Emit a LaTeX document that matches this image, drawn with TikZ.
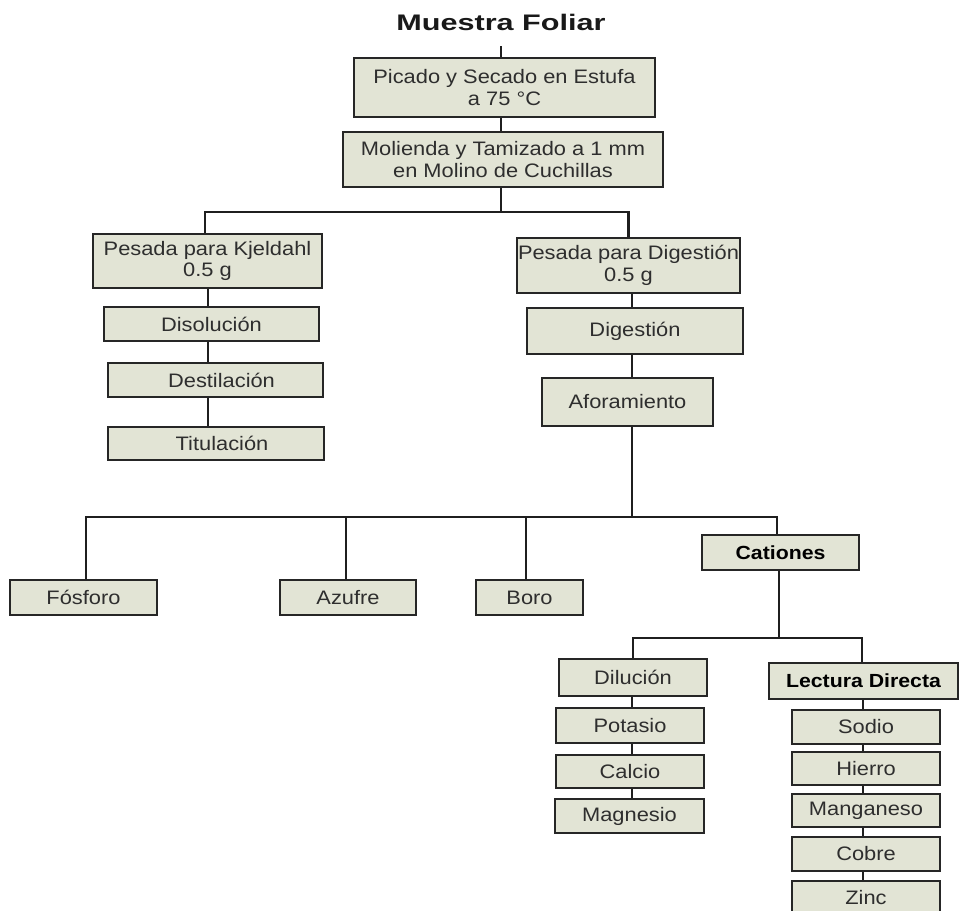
\documentclass[tikz,border=0pt]{standalone}
\usepackage{fontspec}
\setmainfont{Liberation Sans}[FakeStretch=1.12]
\newfontfamily\titlefont{Liberation Sans}[FakeStretch=1.36]
\begin{document}
\begin{tikzpicture}[x=1pt,y=-1pt,
  bx/.style={draw=black!85, line width=2pt, fill=boxfill, inner sep=0pt,
     align=center, text=black!82, font=\fontsize{19.5}{21.5}\selectfont},
  bxb/.style={bx, text=black, font=\fontsize{19}{21}\selectfont\bfseries},
  ln/.style={draw=black!88, line width=2.4pt}]
\definecolor{boxfill}{RGB}{226,228,213}
\useasboundingbox (0,0) rectangle (960,910);
\node[text=black!90, font=\titlefont\fontsize{22.5}{26}\selectfont\bfseries] (title) at (501,22) {Muestra Foliar};
\node[bx, minimum width=301pt, minimum height=59pt] (b1) at (504.5,87.5) {Picado y Secado en Estufa\\a 75 °C};
\node[bx, minimum width=320pt, minimum height=55pt] (b2) at (503,159.5) {Molienda y Tamizado a 1 mm\\en Molino de Cuchillas};
\node[bx, minimum width=229pt, minimum height=54pt] (kj) at (207.5,261) {Pesada para Kjeldahl\\0.5 g};
\node[bx, minimum width=215pt, minimum height=34pt] (dis) at (211.5,324) {Disolución};
\node[bx, minimum width=215pt, minimum height=34pt] (des) at (215.5,380) {\hspace*{12pt}Destilación};
\node[bx, minimum width=216pt, minimum height=33pt] (tit) at (216,443.5) {\hspace*{12pt}Titulación};
\node[bx, minimum width=223pt, minimum height=55pt] (pdg) at (628.5,265.5) {Pesada para Digestión\\0.5 g};
\node[bx, minimum width=216pt, minimum height=46pt] (dig) at (635,331) {Digestión};
\node[bx, minimum width=171pt, minimum height=48pt] (afo) at (627.5,402) {Aforamiento};
\node[bx, minimum width=147pt, minimum height=35pt] (fos) at (83.5,597.5) {Fósforo};
\node[bx, minimum width=136pt, minimum height=35pt] (azu) at (348,597.5) {Azufre};
\node[bx, minimum width=107pt, minimum height=35pt] (bor) at (529.5,597.5) {Boro};
\node[bxb, minimum width=157pt, minimum height=35pt] (cat) at (780.5,552.5) {Cationes};
\node[bx, minimum width=148pt, minimum height=37pt] (dil) at (633,677.5) {Dilución};
\node[bx, minimum width=148pt, minimum height=35pt] (pot) at (630,725.5) {Potasio};
\node[bx, minimum width=148pt, minimum height=33pt] (cal) at (630,771.5) {Calcio};
\node[bx, minimum width=149pt, minimum height=34pt] (mag) at (629.5,816) {Magnesio};
\node[bxb, minimum width=189pt, minimum height=36pt] (lec) at (863.5,681) {Lectura Directa};
\node[bx, minimum width=148pt, minimum height=34pt] (sod) at (866,727) {Sodio};
\node[bx, minimum width=148pt, minimum height=33pt] (hie) at (866,768.5) {Hierro};
\node[bx, minimum width=148pt, minimum height=33pt] (man) at (866,810.5) {Manganeso};
\node[bx, minimum width=148pt, minimum height=34pt] (cob) at (866,854) {Cobre};
\node[bx, minimum width=148pt, minimum height=34pt] (zin) at (866,898) {Zinc};
% connectors
\coordinate (sx) at (501,0);
\coordinate (s0) at (501,212);
\coordinate (kx) at (208,0);
\coordinate (rx) at (632,0);
\coordinate (b3) at (632,517);
\coordinate (b4) at (779,638);
\coordinate (lx) at (863,0);
\path[ln] (sx |- 0,46) -- (b1.north -| sx);
\path[ln] (b1.south -| sx) -- (b2.north -| sx);
\path[ln] (b2.south -| sx) -- (s0);
\path[ln] (kj.north -| 205,0) |- (s0) -| (pdg.north);
\path[ln] (kj.south -| kx) -- (dis.north -| kx);
\path[ln] (dis.south -| kx) -- (des.north -| kx);
\path[ln] (des.south -| kx) -- (tit.north -| kx);
\path[ln] (pdg.south -| rx) -- (dig.north -| rx);
\path[ln] (dig.south -| rx) -- (afo.north -| rx);
\path[ln] (afo.south -| rx) -- (b3);
\path[ln] (fos.north -| 86,0) |- (b3) -| (cat.north -| 777,0);
\path[ln] (azu.north -| 346,0) -- (b3 -| 346,0);
\path[ln] (bor.north -| 526,0) -- (b3 -| 526,0);
\path[ln] (cat.south -| b4) -- (b4);
\path[ln] (dil.north) |- (b4) -| (lec.north -| 862,0);
\path[ln] (dil.south -| rx) -- (pot.north -| rx);
\path[ln] (pot.south -| rx) -- (cal.north -| rx);
\path[ln] (cal.south -| rx) -- (mag.north -| rx);
\path[ln] (lec.south -| lx) -- (sod.north -| lx);
\path[ln] (sod.south -| lx) -- (hie.north -| lx);
\path[ln] (hie.south -| lx) -- (man.north -| lx);
\path[ln] (man.south -| lx) -- (cob.north -| lx);
\path[ln] (cob.south -| lx) -- (zin.north -| lx);
\end{tikzpicture}
\end{document}
